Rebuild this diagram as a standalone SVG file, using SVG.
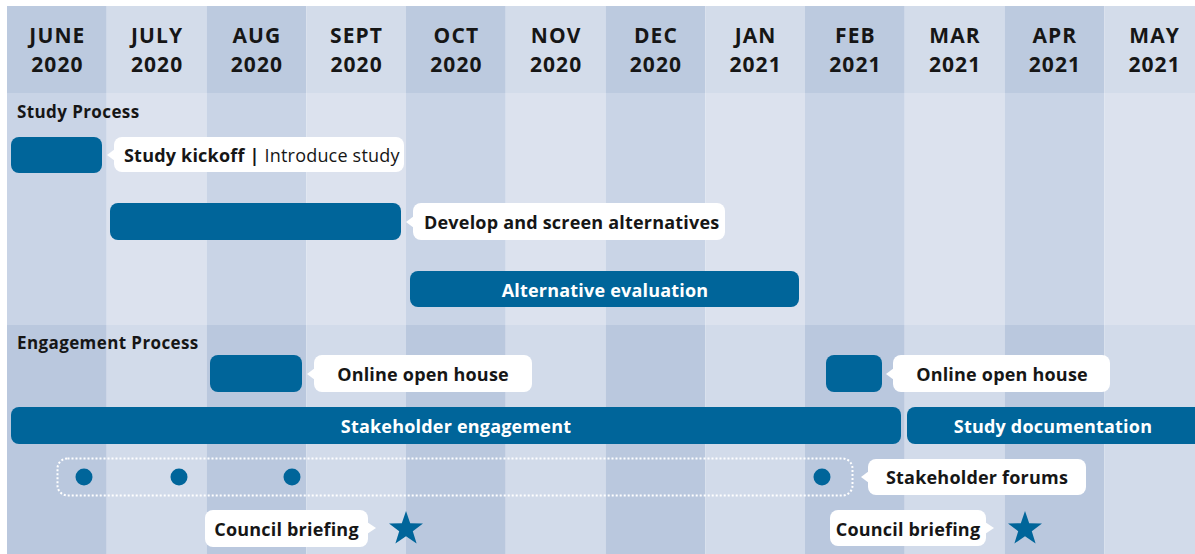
<svg xmlns="http://www.w3.org/2000/svg" width="1195" height="554" viewBox="0 0 1195 554">
<style>
text{font-family:"Open Sans","Noto Sans","Liberation Sans",sans-serif;fill:#161616}
.hd{font-size:21px;font-weight:700;text-anchor:middle;letter-spacing:1.1px}
.sec{font-size:17px;font-weight:700;letter-spacing:0.4px}
.lb{font-size:18px;font-weight:700;letter-spacing:0.2px}
.lc{font-size:18px;font-weight:700;text-anchor:middle;letter-spacing:0.2px}
.wt{font-size:18px;font-weight:700;fill:#ffffff;text-anchor:middle;letter-spacing:0.2px}
.bar{fill:#00659a}
.bub{fill:#ffffff}
.h1{fill:#bccadf}.h2{fill:#d3dcea}
.s1{fill:#c9d4e6}.s2{fill:#dce2ee}
.e1{fill:#bac8de}.e2{fill:#d2dbea}
</style>
<rect x="0" y="0" width="1195" height="554" fill="#ffffff"/>
<g id="grid">
<rect class="h1" x="7" y="6" width="99.75" height="87"/><rect class="h2" x="106.75" y="6" width="99.75" height="87"/>
<rect class="h1" x="206.5" y="6" width="99.75" height="87"/><rect class="h2" x="306.25" y="6" width="99.75" height="87"/>
<rect class="h1" x="406" y="6" width="99.75" height="87"/><rect class="h2" x="505.75" y="6" width="99.75" height="87"/>
<rect class="h1" x="605.5" y="6" width="99.75" height="87"/><rect class="h2" x="705.25" y="6" width="99.75" height="87"/>
<rect class="h1" x="805" y="6" width="99.75" height="87"/><rect class="h2" x="904.75" y="6" width="99.75" height="87"/>
<rect class="h1" x="1004.5" y="6" width="99.75" height="87"/><rect class="h2" x="1104.25" y="6" width="99.75" height="87"/>
<rect class="s1" x="7" y="93" width="99.75" height="232"/><rect class="s2" x="106.75" y="93" width="99.75" height="232"/>
<rect class="s1" x="206.5" y="93" width="99.75" height="232"/><rect class="s2" x="306.25" y="93" width="99.75" height="232"/>
<rect class="s1" x="406" y="93" width="99.75" height="232"/><rect class="s2" x="505.75" y="93" width="99.75" height="232"/>
<rect class="s1" x="605.5" y="93" width="99.75" height="232"/><rect class="s2" x="705.25" y="93" width="99.75" height="232"/>
<rect class="s1" x="805" y="93" width="99.75" height="232"/><rect class="s2" x="904.75" y="93" width="99.75" height="232"/>
<rect class="s1" x="1004.5" y="93" width="99.75" height="232"/><rect class="s2" x="1104.25" y="93" width="99.75" height="232"/>
<rect class="e1" x="7" y="325" width="99.75" height="229"/><rect class="e2" x="106.75" y="325" width="99.75" height="229"/>
<rect class="e1" x="206.5" y="325" width="99.75" height="229"/><rect class="e2" x="306.25" y="325" width="99.75" height="229"/>
<rect class="e1" x="406" y="325" width="99.75" height="229"/><rect class="e2" x="505.75" y="325" width="99.75" height="229"/>
<rect class="e1" x="605.5" y="325" width="99.75" height="229"/><rect class="e2" x="705.25" y="325" width="99.75" height="229"/>
<rect class="e1" x="805" y="325" width="99.75" height="229"/><rect class="e2" x="904.75" y="325" width="99.75" height="229"/>
<rect class="e1" x="1004.5" y="325" width="99.75" height="229"/><rect class="e2" x="1104.25" y="325" width="99.75" height="229"/>
</g>
<g id="headers">
<text class="hd"><tspan x="57.4" y="43">JUNE</tspan><tspan x="57.4" y="72">2020</tspan></text>
<text class="hd"><tspan x="157.1" y="43">JULY</tspan><tspan x="157.1" y="72">2020</tspan></text>
<text class="hd"><tspan x="256.9" y="43">AUG</tspan><tspan x="256.9" y="72">2020</tspan></text>
<text class="hd"><tspan x="356.6" y="43">SEPT</tspan><tspan x="356.6" y="72">2020</tspan></text>
<text class="hd"><tspan x="456.4" y="43">OCT</tspan><tspan x="456.4" y="72">2020</tspan></text>
<text class="hd"><tspan x="556.1" y="43">NOV</tspan><tspan x="556.1" y="72">2020</tspan></text>
<text class="hd"><tspan x="655.9" y="43">DEC</tspan><tspan x="655.9" y="72">2020</tspan></text>
<text class="hd"><tspan x="755.6" y="43">JAN</tspan><tspan x="755.6" y="72">2021</tspan></text>
<text class="hd"><tspan x="855.4" y="43">FEB</tspan><tspan x="855.4" y="72">2021</tspan></text>
<text class="hd"><tspan x="955.1" y="43">MAR</tspan><tspan x="955.1" y="72">2021</tspan></text>
<text class="hd"><tspan x="1054.9" y="43">APR</tspan><tspan x="1054.9" y="72">2021</tspan></text>
<text class="hd"><tspan x="1154.6" y="43">MAY</tspan><tspan x="1154.6" y="72">2021</tspan></text>
</g>
<g id="sections">
<text class="sec" x="17" y="118">Study Process</text>
<text class="sec" x="17" y="349">Engagement Process</text>
</g>
<g id="kickoff">
<rect class="bar" x="11" y="137" width="91" height="36" rx="8"/>
<rect class="bub" x="114" y="137" width="290" height="35" rx="8"/>
<polygon class="bub" points="115,149 107,155 115,161"/>
<text class="lb" x="124" y="162">Study kickoff | <tspan font-weight="400">Introduce study</tspan></text>
</g>
<g id="develop">
<rect class="bar" x="110" y="203" width="291" height="37" rx="8"/>
<rect class="bub" x="413" y="203" width="312" height="37" rx="8"/>
<polygon class="bub" points="414,216 406,222 414,228"/>
<text class="lb" x="424" y="229">Develop and screen alternatives</text>
</g>
<g id="evaluation">
<rect class="bar" x="410" y="271" width="389" height="36" rx="8"/>
<text class="wt" x="605" y="297">Alternative evaluation</text>
</g>
<g id="openhouse1">
<rect class="bar" x="210" y="355" width="92" height="37" rx="8"/>
<rect class="bub" x="314" y="355" width="218" height="37" rx="8"/>
<polygon class="bub" points="315,368 307,374 315,380"/>
<text class="lc" x="423" y="381">Online open house</text>
</g>
<g id="openhouse2">
<rect class="bar" x="826" y="355" width="56" height="37" rx="8"/>
<rect class="bub" x="893" y="355" width="217" height="37" rx="8"/>
<polygon class="bub" points="894,368 886,374 894,380"/>
<text class="lc" x="1002" y="381">Online open house</text>
</g>
<g id="engagement">
<rect class="bar" x="11" y="407" width="890" height="37" rx="8"/>
<text class="wt" x="456" y="433">Stakeholder engagement</text>
</g>
<g id="documentation">
<rect class="bar" x="907" y="407" width="300" height="37" rx="8"/>
<text class="wt" x="1053" y="433">Study documentation</text>
</g>
<g id="forums">
<rect x="57.5" y="458.5" width="795" height="37" rx="10" fill="none" stroke="#ffffff" stroke-width="2" stroke-dasharray="2 2"/>
<circle class="bar" cx="84" cy="477" r="8.5"/>
<circle class="bar" cx="179" cy="477" r="8.5"/>
<circle class="bar" cx="292" cy="477" r="8.5"/>
<circle class="bar" cx="822" cy="477" r="8.5"/>
<rect class="bub" x="868" y="459" width="218" height="36" rx="8"/>
<polygon class="bub" points="869,471 861,477 869,483"/>
<text class="lc" x="977" y="484">Stakeholder forums</text>
</g>
<g id="council1">
<rect class="bub" x="205" y="510" width="163" height="37" rx="8"/>
<polygon class="bub" points="367,522 376,528 367,534"/>
<text class="lc" x="286.5" y="536">Council briefing</text>
<polygon class="bar" points="406,511 410.2,523.2 423,523.4 412.8,531.2 416.6,543.5 406,536.2 395.4,543.5 399.2,531.2 389,523.4 401.8,523.2"/>
</g>
<g id="council2">
<rect class="bub" x="830" y="510" width="156" height="36" rx="8"/>
<polygon class="bub" points="985,522 994,528 985,534"/>
<text class="lc" x="908" y="536">Council briefing</text>
<polygon class="bar" points="1025,511 1029.2,523.2 1042,523.4 1031.8,531.2 1035.6,543.5 1025,536.2 1014.4,543.5 1018.2,531.2 1008,523.4 1020.8,523.2"/>
</g>
</svg>
